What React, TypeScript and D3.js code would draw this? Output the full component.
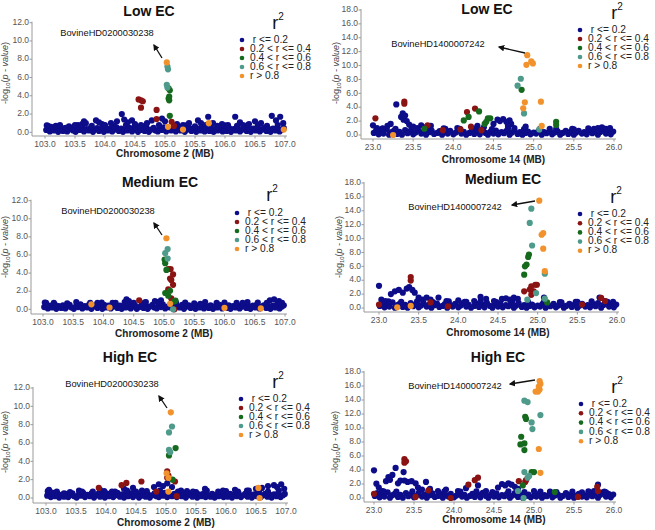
import * as d3 from 'd3'
import React from 'react'

type Pt = [number, number]

// r^2 classes (legend) and their colours
const ldLabels = [' r <= 0.2', '0.2 < r <= 0.4', '0.4 < r <= 0.6', '0.6 < r <= 0.8', 'r > 0.8']
const ldColors = ['#0d0d8a', '#8a1313', '#166a1d', '#4f9b8b', '#f1922d']

const chr2Ticks = [103.0, 103.5, 104.0, 104.5, 105.0, 105.5, 106.0, 106.5, 107.0]
const chr14Ticks = [23.0, 23.5, 24.0, 24.5, 25.0, 25.5, 26.0]
const yTicks12 = [0, 2, 4, 6, 8, 10, 12]
const yTicks18 = [0, 2, 4, 6, 8, 10, 12, 14, 16, 18]

// low-level SNPs shared along each region (r <= 0.2)
const chr2Base: Pt[] = [
  [103.02, 0.25], [103.05, 0.55], [103.08, 0.1], [103.12, 0.4], [103.15, 0.2], [103.19, 0.5], [103.22, 0.05], [103.26, 0.35],
  [103.3, 0.15], [103.33, 0.45], [103.37, 0.1], [103.4, 0.3], [103.44, 0.5], [103.47, 0.2], [103.51, 0.05], [103.55, 0.4],
  [103.58, 0.25], [103.62, 0.55], [103.65, 0.1], [103.69, 0.35], [103.73, 0.2], [103.76, 0.5], [103.8, 0.05], [103.83, 0.3],
  [103.87, 0.45], [103.9, 0.15], [103.94, 0.35], [103.98, 0.05], [104.01, 0.5], [104.05, 0.2], [104.08, 0.4], [104.12, 0.1],
  [104.16, 0.3], [104.19, 0.55], [104.23, 0.15], [104.27, 0.4], [104.3, 0.05], [104.34, 0.35], [104.37, 0.2], [104.41, 0.5],
  [104.45, 0.1], [104.48, 0.3], [104.52, 0.45], [104.55, 0.05], [104.59, 0.25], [104.63, 0.5], [104.66, 0.15], [104.7, 0.4],
  [104.73, 0.05], [104.77, 0.3], [104.81, 0.5], [104.84, 0.2], [104.88, 0.1], [104.91, 0.4], [104.95, 0.25], [104.98, 0.55],
  [105.02, 0.1], [105.06, 0.3], [105.1, 0.2], [105.14, 0.45], [105.18, 0.1], [105.22, 0.35], [105.26, 0.2], [105.3, 0.5],
  [105.33, 0.05], [105.37, 0.3], [105.41, 0.45], [105.44, 0.15], [105.48, 0.35], [105.52, 0.05], [105.55, 0.4], [105.59, 0.2],
  [105.63, 0.5], [105.66, 0.1], [105.7, 0.3], [105.74, 0.15], [105.77, 0.45], [105.81, 0.05], [105.85, 0.35], [105.88, 0.2],
  [105.92, 0.5], [105.96, 0.1], [105.99, 0.3], [106.03, 0.15], [106.07, 0.45], [106.1, 0.05], [106.14, 0.35], [106.18, 0.2],
  [106.21, 0.5], [106.25, 0.1], [106.29, 0.3], [106.32, 0.45], [106.36, 0.15], [106.4, 0.35], [106.43, 0.05], [106.47, 0.4],
  [106.51, 0.2], [106.54, 0.55], [106.58, 0.1], [106.62, 0.3], [106.65, 0.45], [106.69, 0.15], [106.73, 0.35], [106.76, 0.05],
  [106.8, 0.4], [106.84, 0.2], [106.87, 0.5], [106.91, 0.1], [106.95, 0.3], [106.98, 0.45],
  [103.03, 0.75], [103.18, 0.7], [103.4, 0.65], [103.55, 0.8], [103.78, 0.7], [103.97, 0.75], [104.15, 0.7], [104.35, 0.8],
  [104.5, 0.7], [104.68, 0.75], [104.9, 0.8], [105.2, 0.7], [105.35, 0.75], [105.5, 0.65], [105.68, 0.8], [105.87, 0.7],
  [106.0, 0.75], [106.2, 0.7], [106.38, 0.8], [106.55, 0.75], [106.7, 0.7], [106.88, 0.8],
]

const chr14Base: Pt[] = [
  [23.01, 0.3], [23.04, 0.7], [23.07, 0.1], [23.1, 0.5], [23.13, 0.2], [23.17, 0.8], [23.2, 0.05], [23.23, 0.4],
  [23.26, 0.6], [23.3, 0.15], [23.33, 0.45], [23.36, 0.05], [23.4, 0.7], [23.43, 0.25], [23.46, 0.5], [23.5, 0.1],
  [23.53, 0.35], [23.56, 0.75], [23.6, 0.2], [23.63, 0.5], [23.66, 0.05], [23.7, 0.4], [23.73, 0.65], [23.76, 0.15],
  [23.8, 0.3], [23.83, 0.55], [23.86, 0.05], [23.9, 0.4], [23.93, 0.2], [23.96, 0.6], [24.0, 0.1], [24.03, 0.35],
  [24.06, 0.7], [24.1, 0.2], [24.13, 0.45], [24.16, 0.05], [24.2, 0.3], [24.23, 0.6], [24.26, 0.15], [24.3, 0.5],
  [24.33, 0.1], [24.36, 0.75], [24.4, 0.3], [24.43, 0.05], [24.46, 0.45], [24.5, 0.2], [24.53, 0.65], [24.56, 0.1],
  [24.6, 0.4], [24.63, 0.25], [24.66, 0.55], [24.7, 0.05], [24.73, 0.35], [24.76, 0.7], [24.8, 0.15], [24.83, 0.4],
  [24.86, 0.05], [24.9, 0.3], [24.93, 0.5], [24.96, 0.1], [25.0, 0.35], [25.03, 0.2], [25.06, 0.55], [25.1, 0.05],
  [25.13, 0.4], [25.16, 0.25], [25.2, 0.6], [25.23, 0.1], [25.26, 0.35], [25.3, 0.5], [25.33, 0.05], [25.36, 0.3],
  [25.4, 0.6], [25.43, 0.15], [25.46, 0.45], [25.5, 0.05], [25.53, 0.35], [25.56, 0.6], [25.6, 0.2], [25.63, 0.4],
  [25.66, 0.1], [25.7, 0.55], [25.73, 0.25], [25.76, 0.7], [25.8, 0.05], [25.83, 0.45], [25.86, 0.8], [25.9, 0.2],
  [25.93, 0.6], [25.96, 0.1], [25.99, 0.5],
  [23.12, 0.95], [23.28, 0.9], [23.48, 0.95], [23.68, 0.85], [23.88, 0.95], [24.08, 0.9], [24.28, 0.95], [24.48, 0.85],
  [24.68, 0.95], [24.88, 0.85], [25.08, 0.9], [25.28, 0.85], [25.48, 0.9], [25.68, 0.95], [25.88, 0.9],
]

// Low EC, chromosome 2
const lowChr2Blue: Pt[] = [
  [103.05, 0.7], [103.1, 0.6], [103.35, 0.5], [103.62, 0.9], [103.65, 1.2], [103.68, 1.0], [103.85, 1.3], [103.9, 1.1],
  [103.95, 0.9], [104.1, 1.0], [104.2, 1.2], [104.28, 2.0], [104.32, 1.4], [104.38, 1.1], [104.45, 1.3], [104.5, 0.9],
  [104.7, 1.0], [104.78, 1.3], [104.95, 1.5], [105.0, 1.2], [105.2, 0.9], [105.4, 1.0], [105.55, 1.3], [105.6, 1.0],
  [105.72, 1.7], [105.8, 1.0], [105.95, 0.9], [106.17, 1.7], [106.25, 1.1], [106.4, 0.9], [106.5, 1.2], [106.6, 1.0],
  [106.78, 1.8], [106.85, 1.3], [106.92, 1.7], [106.97, 1.0], [103.25, 0.8], [103.5, 0.8], [104.0, 0.8], [104.6, 0.8],
  [105.3, 0.8], [106.05, 0.8], [106.3, 0.8],
]
const lowChr2Red: Pt[] = [[104.56, 3.6], [104.6, 3.5], [104.63, 3.4], [104.6, 2.7], [104.86, 2.45], [104.86, 1.45], [105.11, 1.15], [105.15, 0.7]]
const lowChr2Green: Pt[] = [[105.06, 4.8], [105.08, 4.6], [105.07, 3.9], [105.06, 3.7], [105.07, 3.5], [105.08, 1.8]]
const lowChr2Teal: Pt[] = [[105.04, 7.2], [105.05, 6.9], [105.03, 5.2], [105.04, 4.9]]
const lowChr2Orange: Pt[] = [[105.03, 7.65], [105.05, 0.6], [105.3, 0.3], [105.73, 1.0], [106.98, 0.3]]

// Low EC, chromosome 14
const lowChr14Blue: Pt[] = [
  [23.0, 1.4], [23.05, 1.0], [23.12, 0.9], [23.18, 1.3], [23.22, 1.6], [23.29, 4.4], [23.35, 2.6], [23.37, 3.1],
  [23.4, 2.8], [23.38, 2.2], [23.42, 2.0], [23.45, 1.5], [23.5, 1.2], [23.55, 1.0], [23.6, 1.4], [23.65, 1.1],
  [23.72, 1.3], [23.9, 0.9], [24.05, 1.0], [24.3, 1.3], [24.38, 1.1], [24.5, 1.6], [24.55, 2.2], [24.58, 2.0],
  [24.62, 2.3], [24.66, 1.9], [24.7, 2.1], [24.72, 1.6], [24.68, 1.3], [24.76, 1.0], [24.9, 1.2], [25.2, 0.9],
  [25.5, 0.8], [25.75, 0.9], [25.8, 1.0], [25.85, 1.1], [25.9, 0.9], [25.95, 1.0],
]
const lowChr14Red: Pt[] = [
  [23.03, 2.4], [23.39, 4.8], [23.39, 4.5], [24.17, 3.3], [24.27, 3.8], [23.68, 1.4], [23.87, 0.7], [24.09, 0.8],
  [24.22, 1.2], [24.35, 0.7],
]
const lowChr14Green: Pt[] = [
  [24.85, 6.5], [24.32, 3.4], [24.19, 2.6], [24.13, 2.1], [24.43, 2.4], [24.41, 1.9], [24.39, 1.6], [24.46, 2.4],
  [25.28, 1.9], [25.28, 1.45], [23.64, 0.9],
]
const lowChr14Teal: Pt[] = [[24.84, 8.1], [24.8, 7.1], [24.88, 3.1], [25.07, 0.8]]
const lowChr14Orange: Pt[] = [
  [24.92, 11.5], [24.91, 10.1], [24.97, 10.6], [24.99, 10.3], [24.89, 4.7], [24.87, 3.85], [25.09, 4.8], [25.1, 1.3],
  [23.25, 0.0],
]

// Medium EC, chromosome 2
const medChr2Blue: Pt[] = [
  [103.05, 0.7], [103.2, 0.5], [103.9, 0.7], [104.38, 1.1], [104.42, 0.9], [104.2, 0.7], [104.7, 0.8], [104.85, 0.9],
  [104.95, 1.0], [105.6, 0.6], [106.3, 0.7], [106.75, 1.0], [106.82, 1.1], [106.9, 0.9], [106.95, 0.7],
]
const medChr2Red: Pt[] = [
  [105.07, 4.45], [105.11, 4.45], [105.1, 3.4], [105.12, 3.25], [105.15, 3.85], [105.15, 2.7], [105.12, 1.2], [105.17, 0.0],
  [104.59, 1.0], [105.07, 2.2],
]
const medChr2Green: Pt[] = [
  [105.01, 5.5], [105.02, 5.1], [105.04, 4.35], [105.02, 1.8], [105.07, 1.5], [105.1, 2.05], [105.16, 0.85], [105.19, 0.95],
]
const medChr2Teal: Pt[] = [[105.02, 6.2], [105.06, 6.65], [105.06, 5.6], [105.15, 0.0]]
const medChr2Orange: Pt[] = [[105.04, 7.85], [105.1, 0.6], [103.8, 0.55], [104.1, 0.2], [106.0, 0.15], [106.6, 0.1]]

// Medium EC, chromosome 14
const medChr14Blue: Pt[] = [
  [23.0, 3.2], [23.03, 1.2], [23.08, 1.0], [23.15, 2.0], [23.2, 2.4], [23.25, 2.6], [23.3, 2.2], [23.35, 2.8],
  [23.38, 3.0], [23.42, 2.6], [23.45, 2.2], [23.5, 1.5], [23.55, 1.2], [23.6, 1.5], [23.65, 1.2], [23.75, 1.5],
  [23.85, 1.0], [24.0, 1.1], [24.1, 0.9], [24.2, 1.0], [24.28, 1.6], [24.35, 1.3], [24.45, 1.0], [24.55, 1.3],
  [24.6, 1.4], [24.65, 1.2], [24.7, 1.5], [24.75, 1.3], [25.08, 1.5], [25.3, 0.8], [25.5, 0.9], [25.78, 1.5],
  [25.85, 1.0], [25.95, 0.9],
]
const medChr14Red: Pt[] = [
  [23.4, 3.95], [23.4, 4.45], [24.83, 2.4], [24.92, 3.1], [24.97, 3.35], [24.99, 3.35], [24.9, 2.65], [24.95, 2.4],
  [24.92, 1.9], [23.87, 0.25], [23.65, 0.8], [25.85, 1.0], [25.8, 1.45], [25.56, 0.5], [23.0, 0.5],
]
const medChr14Green: Pt[] = [[24.89, 7.7], [24.88, 7.35], [24.86, 6.25], [24.84, 6.0], [24.83, 4.8], [25.12, 0.8]]
const medChr14Teal: Pt[] = [[24.92, 14.3], [24.9, 12.25], [24.93, 9.0], [25.09, 4.95], [24.98, 2.15], [24.87, 1.2], [25.09, 1.35]]
const medChr14Orange: Pt[] = [[25.02, 15.45], [25.05, 10.55], [25.07, 10.8], [25.07, 8.55], [25.09, 5.3], [23.23, 0.1], [23.4, 0.3]]

// High EC, chromosome 2
const highChr2Blue: Pt[] = [
  [103.05, 0.9], [103.1, 0.6], [103.3, 0.5], [103.6, 0.7], [103.9, 0.9], [104.1, 0.7], [104.3, 1.0], [104.45, 1.1],
  [104.6, 0.8], [104.8, 1.2], [104.88, 1.5], [104.95, 1.3], [105.02, 1.6], [105.1, 1.2], [105.25, 0.8], [105.45, 0.7],
  [105.65, 1.0], [105.95, 0.8], [106.15, 0.9], [106.35, 0.8], [106.5, 1.0], [106.6, 1.1], [106.7, 1.3], [106.8, 1.4],
  [106.85, 1.2], [106.92, 1.5], [106.97, 1.0],
]
const highChr2Red: Pt[] = [
  [105.02, 2.9], [105.02, 2.2], [105.04, 2.45], [104.26, 1.4], [104.34, 1.65], [104.59, 1.8], [105.15, 1.8], [105.18, 0.2],
  [103.88, 1.1], [104.84, 0.7],
]
const highChr2Green: Pt[] = [[105.16, 5.45], [105.05, 4.65], [105.11, 2.0]]
const highChr2Teal: Pt[] = [[105.1, 7.8], [105.05, 7.15], [105.05, 5.25], [105.07, 5.0]]
const highChr2Orange: Pt[] = [[105.08, 9.35], [105.01, 2.7], [105.04, 2.2], [105.04, 0.7], [106.54, 1.1], [106.56, 0.0]]

// High EC, chromosome 14
const highChr14Blue: Pt[] = [
  [23.0, 3.95], [23.03, 2.05], [23.06, 1.5], [23.1, 1.0], [23.15, 2.4], [23.18, 3.0], [23.2, 2.6], [23.23, 3.3],
  [23.27, 4.3], [23.3, 2.1], [23.33, 2.5], [23.37, 3.7], [23.38, 2.5], [23.42, 2.3], [23.47, 2.4], [23.52, 2.1],
  [23.55, 1.5], [23.6, 1.2], [23.65, 2.3], [23.7, 1.3], [23.8, 1.0], [23.9, 1.2], [24.05, 1.0], [24.15, 1.4],
  [24.3, 1.8], [24.4, 1.0], [24.55, 1.5], [24.6, 2.0], [24.64, 1.8], [24.68, 2.1], [24.72, 1.9], [24.76, 1.6],
  [24.8, 1.3], [25.0, 1.0], [25.2, 0.9], [25.4, 0.7], [25.6, 0.8], [25.75, 1.0], [25.8, 1.9], [25.9, 0.8],
]
const highChr14Red: Pt[] = [
  [23.38, 5.55], [23.4, 5.25], [23.38, 5.05], [24.3, 2.9], [24.26, 2.55], [24.18, 1.9], [24.81, 2.4], [24.89, 2.3],
  [24.9, 2.55], [23.0, 0.6], [23.52, 0.15], [23.68, 1.1], [23.96, 0.0], [25.79, 1.6], [25.8, 1.0], [25.55, 0.15],
]
const highChr14Green: Pt[] = [
  [24.89, 11.6], [24.9, 11.3], [24.84, 8.75], [24.83, 7.65], [24.88, 7.8], [24.88, 6.85], [24.97, 3.7], [25.0, 3.7],
  [24.86, 1.8], [25.26, 0.85],
]
const highChr14Teal: Pt[] = [
  [24.88, 13.9], [24.92, 13.7], [24.97, 10.8], [24.98, 9.85], [25.08, 11.85], [24.88, 3.7], [24.94, 3.15], [24.92, 2.9],
  [24.8, 1.0], [24.87, 0.0],
]
const highChr14Orange: Pt[] = [
  [25.07, 16.7], [25.08, 16.3], [25.06, 15.9], [25.07, 15.5], [25.05, 15.2], [25.02, 15.2], [25.06, 7.0], [25.08, 3.6],
]

const snpChr2 = 'BovineHD0200030238'
const snpChr14 = 'BovineHD1400007242'

const FONT = '"Liberation Sans", Arial, sans-serif'

interface Layout {
  title: string
  titleX: number
  titleY: number
  xDomain: [number, number]
  xRange: [number, number]
  yMax: number
  yRange: [number, number]
  axisX: number
  axisY: number
  xTitle: string
  xTitleY: number
  yLabX: number
  yLabY: number
  legX: number
  legY: number
  legStep: number
  r2X: number
  r2Y: number
  snp: string
  snpX: number
  snpY: number
  arrow: [number, number, number, number]
}

function Panel({ L, xTicks, yTicks, series, base }: { L: Layout; xTicks: number[]; yTicks: number[]; series: Pt[][]; base: Pt[] }) {
  const x = d3.scaleLinear().domain(L.xDomain).range(L.xRange)
  const y = d3.scaleLinear().domain([0, L.yMax]).range(L.yRange)
  const fmt = d3.format('.1f')
  const layers = [base.concat(series[0]), series[1], series[2], series[3], series[4]]
  const axisColor = '#9a9a9a'
  return (
    <g>
      <text x={L.titleX} y={L.titleY} textAnchor="middle" dominantBaseline="middle" fontFamily={FONT} fontWeight="bold" fontSize={14} fill="#111">
        {L.title}
      </text>
      {/* axes */}
      <line x1={L.axisX} x2={L.axisX} y1={y(L.yMax) - 1} y2={L.axisY} stroke={axisColor} strokeWidth={1} />
      <line x1={L.axisX} x2={L.xRange[1] + 2} y1={L.axisY} y2={L.axisY} stroke={axisColor} strokeWidth={1} />
      {yTicks.map((t) => (
        <g key={'y' + t}>
          <line x1={L.axisX - 2.5} x2={L.axisX} y1={y(t)} y2={y(t)} stroke={axisColor} />
          <text x={L.axisX - 3} y={y(t)} textAnchor="end" dominantBaseline="middle" fontFamily={FONT} fontSize={8.5} fill="#555">
            {fmt(t)}
          </text>
        </g>
      ))}
      {xTicks.map((t) => (
        <g key={'x' + t}>
          <line x1={x(t)} x2={x(t)} y1={L.axisY} y2={L.axisY + 2.5} stroke={axisColor} />
          <text x={x(t)} y={L.axisY + 8.5} textAnchor="middle" dominantBaseline="middle" fontFamily={FONT} fontSize={8.5} fill="#555">
            {fmt(t)}
          </text>
        </g>
      ))}
      <text x={(L.xRange[0] + L.xRange[1]) / 2} y={L.xTitleY} textAnchor="middle" dominantBaseline="middle" fontFamily={FONT} fontWeight="bold" fontSize={10} fill="#222">
        {L.xTitle}
      </text>
      <text transform={`translate(${L.yLabX},${L.yLabY}) rotate(-90)`} textAnchor="middle" dominantBaseline="middle" fontFamily={FONT} fontSize={9} fill="#444">
        <tspan>-log</tspan>
        <tspan fontSize={6} dy={2}>10</tspan>
        <tspan dy={-2}>(</tspan>
        <tspan fontStyle="italic">p - value</tspan>
        <tspan>)</tspan>
      </text>
      {/* points */}
      {layers.map((pts, k) => (
        <g key={'s' + k} fill={ldColors[k]}>
          {pts.map((p, i) => (
            <circle key={i} cx={x(p[0])} cy={y(p[1])} r={3.1} />
          ))}
        </g>
      ))}
      {/* annotation */}
      <text x={L.snpX} y={L.snpY} textAnchor="middle" dominantBaseline="middle" fontFamily={FONT} fontSize={9.3} fill="#111">
        {L.snp}
      </text>
      <line x1={L.arrow[0]} y1={L.arrow[1]} x2={L.arrow[2]} y2={L.arrow[3]} stroke="#111" strokeWidth={1.3} markerEnd="url(#arrowHead)" />
      {/* legend */}
      <text x={L.r2X} y={L.r2Y + 1} textAnchor="middle" dominantBaseline="middle" fontFamily={FONT} fontSize={18} fill="#111">
        <tspan>r</tspan>
        <tspan fontSize={10} dy={-7}>2</tspan>
      </text>
      {ldLabels.map((lab, i) => (
        <g key={lab}>
          <circle cx={L.legX} cy={L.legY + i * L.legStep} r={2.3} fill={ldColors[i]} />
          <text x={L.legX + 8} y={L.legY + i * L.legStep} dominantBaseline="middle" fontFamily={FONT} fontSize={10.2} fill="#222" style={{ whiteSpace: 'pre' }}>
            {lab}
          </text>
        </g>
      ))}
    </g>
  )
}

const layouts: Layout[] = [
  { title: 'Low EC', titleX: 149, titleY: 12, xDomain: [103, 107], xRange: [45, 285], yMax: 12, yRange: [132.3, 22.7], axisX: 32, axisY: 136,
    xTitle: 'Chromosome 2 (MB)', xTitleY: 154, yLabX: 6, yLabY: 73, legX: 242, legY: 40, legStep: 9, r2X: 278, r2Y: 23,
    snp: snpChr2, snpX: 107, snpY: 34, arrow: [162, 58, 154, 45] },
  { title: 'Low EC', titleX: 487, titleY: 10, xDomain: [23, 26], xRange: [373, 614], yMax: 18, yRange: [135, 10], axisX: 361, axisY: 139,
    xTitle: 'Chromosome 14 (MB)', xTitleY: 160, yLabX: 337, yLabY: 73, legX: 580, legY: 30, legStep: 9, r2X: 617, r2Y: 13,
    snp: snpChr14, snpX: 438, snpY: 45, arrow: [525, 53, 499, 47] },
  { title: 'Medium EC', titleX: 160, titleY: 183, xDomain: [103, 107], xRange: [43, 285], yMax: 12, yRange: [309.3, 200.7], axisX: 31, axisY: 314,
    xTitle: 'Chromosome 2 (MB)', xTitleY: 334, yLabX: 6, yLabY: 247, legX: 237, legY: 213, legStep: 9, r2X: 272, r2Y: 195,
    snp: snpChr2, snpX: 108, snpY: 212, arrow: [162, 235, 154, 223] },
  { title: 'Medium EC', titleX: 503, titleY: 180, xDomain: [23, 26], xRange: [379, 617], yMax: 18, yRange: [308, 183], axisX: 364, axisY: 312,
    xTitle: 'Chromosome 14 (MB)', xTitleY: 333, yLabX: 340, yLabY: 247, legX: 580, legY: 214, legStep: 9.2, r2X: 616, r2Y: 197,
    snp: snpChr14, snpX: 455, snpY: 208, arrow: [535, 201, 512, 205] },
  { title: 'High EC', titleX: 130, titleY: 358, xDomain: [103, 107], xRange: [46, 286], yMax: 12, yRange: [498, 388], axisX: 33, axisY: 503,
    xTitle: 'Chromosome 2 (MB)', xTitleY: 523, yLabX: 6, yLabY: 442, legX: 241, legY: 399, legStep: 9, r2X: 278, r2Y: 382,
    snp: snpChr2, snpX: 112, snpY: 385, arrow: [167, 408, 159, 396] },
  { title: 'High EC', titleX: 498, titleY: 358, xDomain: [23, 26], xRange: [374, 614], yMax: 18, yRange: [498, 372], axisX: 364, axisY: 502,
    xTitle: 'Chromosome 14 (MB)', xTitleY: 520, yLabX: 336, yLabY: 442, legX: 581, legY: 404, legStep: 9.3, r2X: 617, r2Y: 387,
    snp: snpChr14, snpX: 455, snpY: 387, arrow: [535, 380, 510, 384] },
]

export default function App() {
  return (
    <svg width={655} height={530} style={{ position: 'absolute', left: 0, top: 0, background: '#fff' }}>
      <defs>
        <marker id="arrowHead" viewBox="0 0 10 10" refX="8" refY="5" markerWidth="5" markerHeight="5" orient="auto">
          <path d="M0,0 L10,5 L0,10 z" fill="#111" />
        </marker>
      </defs>
      <rect width={655} height={530} fill="#fff" />
      <Panel L={layouts[0]} xTicks={chr2Ticks} yTicks={yTicks12} base={chr2Base} series={[lowChr2Blue, lowChr2Red, lowChr2Green, lowChr2Teal, lowChr2Orange]} />
      <Panel L={layouts[1]} xTicks={chr14Ticks} yTicks={yTicks18} base={chr14Base} series={[lowChr14Blue, lowChr14Red, lowChr14Green, lowChr14Teal, lowChr14Orange]} />
      <Panel L={layouts[2]} xTicks={chr2Ticks} yTicks={yTicks12} base={chr2Base} series={[medChr2Blue, medChr2Red, medChr2Green, medChr2Teal, medChr2Orange]} />
      <Panel L={layouts[3]} xTicks={chr14Ticks} yTicks={yTicks18} base={chr14Base} series={[medChr14Blue, medChr14Red, medChr14Green, medChr14Teal, medChr14Orange]} />
      <Panel L={layouts[4]} xTicks={chr2Ticks} yTicks={yTicks12} base={chr2Base} series={[highChr2Blue, highChr2Red, highChr2Green, highChr2Teal, highChr2Orange]} />
      <Panel L={layouts[5]} xTicks={chr14Ticks} yTicks={yTicks18} base={chr14Base} series={[highChr14Blue, highChr14Red, highChr14Green, highChr14Teal, highChr14Orange]} />
    </svg>
  )
}
